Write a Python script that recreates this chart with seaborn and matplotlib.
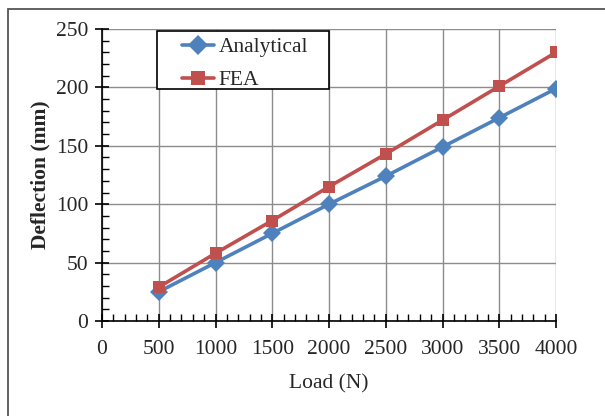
import matplotlib
matplotlib.use("Agg")
import matplotlib.pyplot as plt
import seaborn as sns
import pandas as pd
from matplotlib.ticker import MultipleLocator
from matplotlib.patches import Rectangle

load = [500, 1000, 1500, 2000, 2500, 3000, 3500, 4000]
analytical = [25, 50, 75, 100, 124, 149, 174, 199]
fea = [29, 58, 86, 115, 143, 172, 201, 230]
series_names = ["Analytical", "FEA"]

df = pd.concat([
    pd.DataFrame({"Load": load, "Deflection": analytical, "Series": series_names[0]}),
    pd.DataFrame({"Load": load, "Deflection": fea, "Series": series_names[1]}),
])

sns.set_style("white")
plt.rcParams['font.family'] = ['Liberation Serif', 'DejaVu Serif']

W, H = 605, 416
fig = plt.figure(figsize=(W/100, H/100), dpi=100)
ax = fig.add_axes([102/W, 1-321/H, (556-102)/W, (321-29)/H])

palette = {"Analytical": "#4F81BD", "FEA": "#C0504D"}
sns.lineplot(data=df, x="Load", y="Deflection", hue="Series", style="Series",
             markers={"Analytical": "D", "FEA": "s"}, dashes=False,
             palette=palette, linewidth=2.6, markersize=9, markeredgewidth=0,
             ax=ax, legend=True)

ax.set_xlim(0, 4000)
ax.set_ylim(0, 250)
ax.xaxis.set_major_locator(MultipleLocator(500))
ax.xaxis.set_minor_locator(MultipleLocator(100))
ax.yaxis.set_major_locator(MultipleLocator(50))
ax.yaxis.set_minor_locator(MultipleLocator(10))
ax.grid(True, which="major", color="#8c8c8c", linewidth=1.0)
ax.set_axisbelow(True)
for s in ["top", "right"]:
    ax.spines[s].set_visible(False)
for s in ["left", "bottom"]:
    ax.spines[s].set_color("black")
    ax.spines[s].set_linewidth(1.2)

FS = 15.5
ax.tick_params(axis="both", which="major", direction="inout", length=10, width=1.2,
               labelsize=FS, color="black", pad=5)
ax.tick_params(axis="both", which="minor", direction="in", length=5, width=1.0, color="black")
ax.tick_params(axis="x", which="major", pad=9)
ax.tick_params(left=True, bottom=True, which="both")

ax.set_xlabel("Load (N)", fontsize=FS, labelpad=11)
ax.set_ylabel("Deflection (mm)", fontsize=FS, fontweight="bold", labelpad=4)

handles, labels = ax.get_legend_handles_labels()
leg = ax.legend(handles, labels, loc="upper left",
                bbox_to_anchor=((182-102)/454, 1 - (37-29)/292),
                fontsize=FS, frameon=False,
                handlelength=1.5, borderpad=0.0, labelspacing=0.6, handletextpad=0.2,
                borderaxespad=0)
leg.set_zorder(10)
for h in leg.legend_handles:
    h.set_markersize(10)

box = Rectangle((157/W, 1-89/H), (329-157)/W, (89-31)/H, transform=fig.transFigure,
                facecolor="white", edgecolor="black", linewidth=1.2, zorder=9, clip_on=False)
ax.add_artist(box)
fig.patches.append(Rectangle((8/W, -0.1), 1.1, 1 - 9/H + 0.1, transform=fig.transFigure,
                             fill=False, edgecolor="#555555", linewidth=1.3))

fig.savefig("out.png", dpi=100)
